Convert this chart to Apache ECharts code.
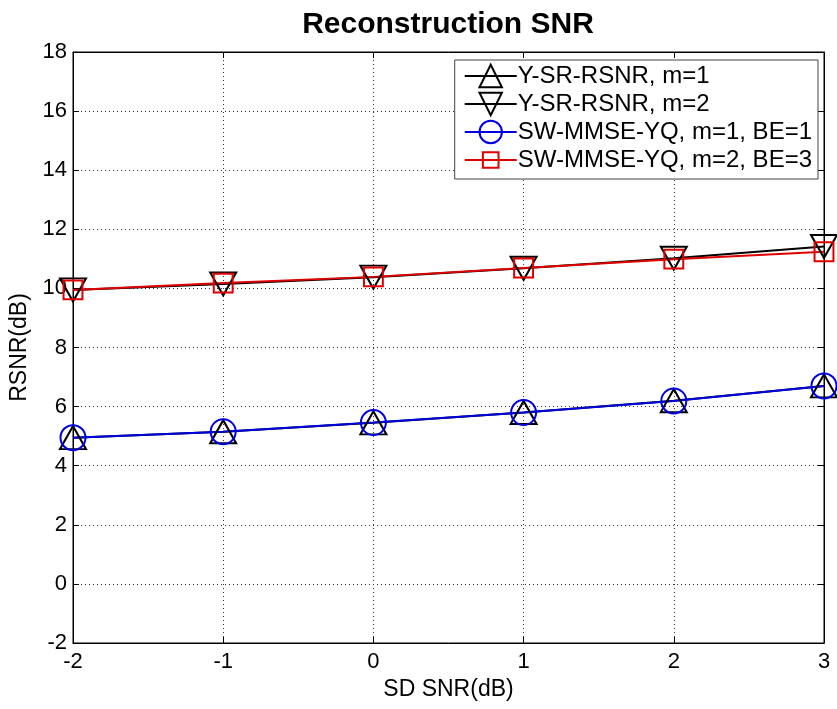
<!DOCTYPE html>
<html><head><meta charset="utf-8">
<script src="https://cdn.jsdelivr.net/npm/echarts@6/dist/echarts.min.js"></script>
<style>html,body{margin:0;padding:0;background:#fff}#c{width:837px;height:709px}</style>
</head><body><div id="c"></div>
<script>
const xValues = [-2, -1, 0, 1, 2, 3];
const ysrM1 = [4.95, 5.15, 5.45, 5.8, 6.2, 6.7];
const ysrM2 = [9.95, 10.15, 10.38, 10.68, 11.02, 11.42];
const swM1 = [4.95, 5.15, 5.46, 5.8, 6.19, 6.7];
const swM2 = [9.95, 10.18, 10.39, 10.69, 10.99, 11.24];
const seriesNames = ['Y-SR-RSNR, m=1', 'Y-SR-RSNR, m=2', 'SW-MMSE-YQ, m=1, BE=1', 'SW-MMSE-YQ, m=2, BE=3'];

const font = 'Liberation Sans, Arial, sans-serif';
const pair = arr => xValues.map((x, i) => [x, arr[i]]);
const downTri = 'path://M0,0 L26,0 L13,23 Z';
const upTri = 'path://M13,0 L26,23 L0,23 Z';
const paddedSquare = 'path://M-2.15,-2.15 M12.15,12.15 M0,0 L10,0 L10,10 L0,10 Z';
function mk(name, data, color, symbol, size) {
  return {
    name, type: 'line', data: pair(data), symbol, symbolSize: size,
    showAllSymbol: true, xAxisIndex: 0, yAxisIndex: 0,
    lineStyle: { color, width: 2 },
    itemStyle: { color: 'rgba(255,255,255,0)', borderColor: color, borderWidth: 2 },
    emphasis: { disabled: true }, animation: false
  };
}
const axisLineStyle = { color: '#000', width: 1 };
const gridLine = { show: true, lineStyle: { color: '#333', type: [1, 3], width: 1 } };
const chart = echarts.init(document.getElementById('c'), null, { renderer: 'canvas' });
chart.setOption({
  backgroundColor: '#fff',
  animation: false,
  title: {
    text: 'Reconstruction SNR', left: 443, top: 5, textAlign: 'center',
    textStyle: { fontFamily: font, fontSize: 30, fontWeight: 'bold', color: '#000' }
  },
  grid: { left: 73, right: 13, top: 52, bottom: 66, show: true, borderColor: '#000', borderWidth: 1, backgroundColor: 'transparent' },
  legend: {
    orient: 'vertical', right: 19, top: 60, data: seriesNames,
    backgroundColor: '#fff', borderColor: '#444', borderWidth: 1,
    padding: [2, 6, 5, 9], itemGap: 0, itemWidth: 52, itemHeight: 28,
    textStyle: { fontFamily: font, fontSize: 24, lineHeight: 28, height: 28, color: '#000', padding: [0, 0, 0, -4] }
  },
  xAxis: [{
    type: 'value', min: -2, max: 3, interval: 1,
    name: 'SD SNR(dB)', nameLocation: 'middle', nameGap: 35,
    nameTextStyle: { fontFamily: font, fontSize: 23, color: '#000' },
    axisLine: { onZero: false, lineStyle: axisLineStyle },
    axisTick: { inside: true, length: 6, lineStyle: { color: '#000' } },
    axisLabel: { fontFamily: font, fontSize: 22, color: '#000', margin: 8 },
    splitLine: gridLine
  }, {
    type: 'value', position: 'top', min: -2, max: 3, interval: 1,
    axisLine: { onZero: false, lineStyle: axisLineStyle },
    axisTick: { inside: true, length: 6, lineStyle: { color: '#000' } },
    axisLabel: { show: false }, splitLine: { show: false }
  }],
  yAxis: [{
    type: 'value', min: -2, max: 18, interval: 2,
    name: 'RSNR(dB)', nameLocation: 'middle', nameGap: 40, nameRotate: 90,
    nameTextStyle: { fontFamily: font, fontSize: 23, color: '#000' },
    axisLine: { show: true, onZero: false, lineStyle: axisLineStyle },
    axisTick: { show: true, inside: true, length: 6, lineStyle: { color: '#000' } },
    axisLabel: { fontFamily: font, fontSize: 22, color: '#000', margin: 6 },
    splitLine: gridLine
  }, {
    type: 'value', position: 'right', min: -2, max: 18, interval: 2,
    axisLine: { show: true, onZero: false, lineStyle: axisLineStyle },
    axisTick: { show: true, inside: true, length: 6, lineStyle: { color: '#000' } },
    axisLabel: { show: false }, splitLine: { show: false }
  }],
  series: [
    mk(seriesNames[0], ysrM1, '#000', upTri, [26, 23]),
    mk(seriesNames[1], ysrM2, '#000', downTri, [26, 23]),
    mk(seriesNames[2], swM1, '#0000e0', 'circle', 25),
    mk(seriesNames[3], swM2, '#e00000', paddedSquare, 27)
  ]
});
</script></body></html>
